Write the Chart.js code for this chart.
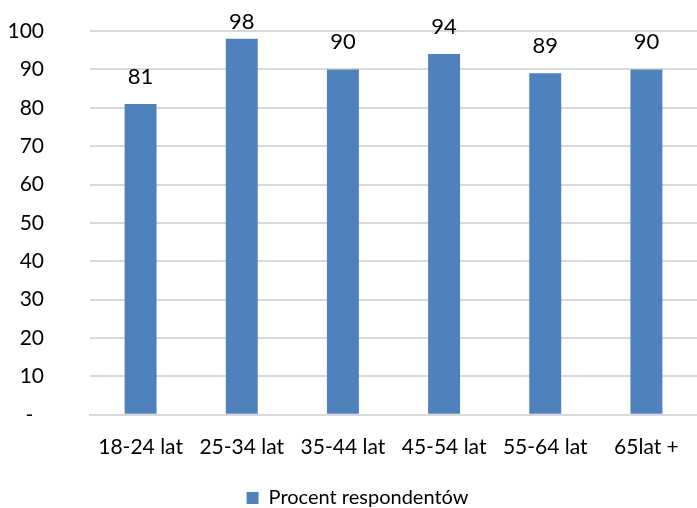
<!DOCTYPE html>
<html>
<head>
<meta charset="utf-8">
<script src="https://cdn.jsdelivr.net/npm/chart.js@4/dist/chart.umd.min.js"></script>
<style>
  html, body { margin: 0; padding: 0; background: #fff; }
  #wrap { width: 697px; height: 508px; }
</style>
</head>
<body>
<div id="wrap"><canvas id="c" width="697" height="508"></canvas></div>
<script>
const categories = ['18-24 lat', '25-34 lat', '35-44 lat', '45-54 lat', '55-64 lat', '65lat +'];
const seriesName = 'Procent respondentów';
const values = [81, 98, 90, 94, 89, 90];
const yTicks = [0, 10, 20, 30, 40, 50, 60, 70, 80, 90, 100];

const FONT = 'Lato, "Open Sans", sans-serif';
const TEXT = '#000000';
const BAR = '#4F81BD';
const GRID = '#d9d9d9';

// Value labels drawn above each bar
const barLabels = {
  id: 'barLabels',
  afterDatasetsDraw(chart) {
    const ctx = chart.ctx;
    const meta = chart.getDatasetMeta(0);
    ctx.save();
    ctx.font = '22px ' + FONT;
    ctx.fillStyle = TEXT;
    ctx.textAlign = 'center';
    ctx.textBaseline = 'middle';
    meta.data.forEach((bar, i) => {
      const y = Math.max(bar.y - 27, 22);
      ctx.fillText(String(chart.data.datasets[0].data[i]), bar.x, y);
    });
    ctx.restore();
  }
};

// Nudge the legend box slightly right and down
const legendShift = {
  id: 'legendShift',
  afterLayout(chart) {
    const lg = chart.legend;
    if (!lg) return;
    lg.left += 9; lg.right += 9;
    lg.top += 10; lg.bottom += 10;
  }
};

new Chart(document.getElementById('c'), {
  type: 'bar',
  data: {
    labels: categories,
    datasets: [{
      label: seriesName,
      data: values,
      backgroundColor: BAR,
      borderWidth: 0,
      categoryPercentage: 1.0,
      barPercentage: 0.316
    }]
  },
  options: {
    responsive: false,
    animation: false,
    devicePixelRatio: 1,
    layout: { padding: { top: 31, right: 0, left: 0, bottom: 0 } },
    scales: {
      x: {
        grid: { display: false },
        border: { color: GRID, width: 2 },
        ticks: { color: TEXT, font: { family: FONT, size: 21 }, padding: 12, maxRotation: 0 },
        afterFit(axis) { axis.height += 6; }
      },
      y: {
        min: 0, max: 100,
        afterBuildTicks(axis) { axis.ticks = yTicks.map(v => ({ value: v })); },
        afterFit(axis) { axis.width = 90; },
        grid: { color: GRID, lineWidth: 2, drawTicks: true, tickLength: 40, tickColor: 'rgba(0,0,0,0)' },
        border: { display: false },
        ticks: {
          color: TEXT,
          font: { family: FONT, size: 21 },
          padding: 6,
          callback: v => (v === 0 ? '-  ' : String(v))
        }
      }
    },
    plugins: {
      legend: {
        position: 'bottom',
        labels: {
          color: TEXT,
          font: { family: FONT, size: 20 },
          boxWidth: 12, boxHeight: 12,
          padding: 0
        }
      },
      tooltip: { enabled: false }
    }
  },
  plugins: [barLabels, legendShift]
});
</script>
</body>
</html>
